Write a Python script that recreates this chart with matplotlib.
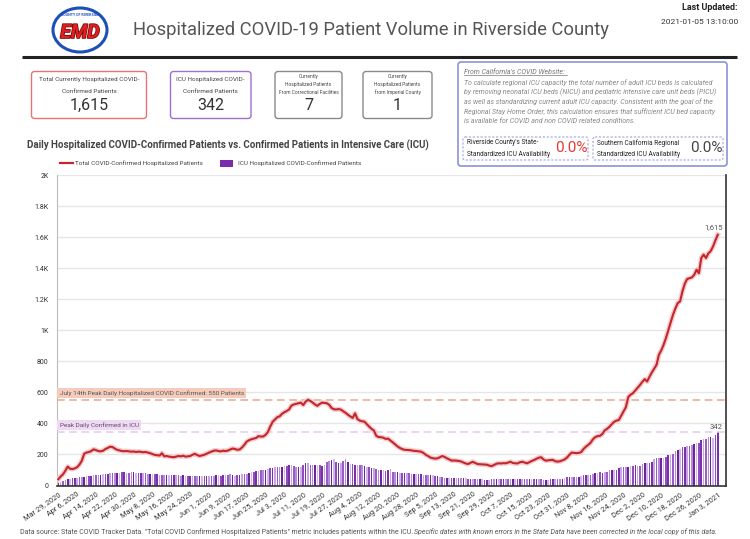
import matplotlib
matplotlib.use("Agg")
import matplotlib.pyplot as plt
import matplotlib.patheffects as pe
from matplotlib.patches import FancyBboxPatch, Rectangle, Ellipse
import pandas as pd

plt.rcParams['font.family'] = ['Roboto', 'DejaVu Sans']

# ---- data ----
start_date = "2020-03-29"

hospitalized = [
    40, 58, 72, 95, 122, 108, 106, 110, 118, 135,
    160, 205, 212, 216, 222, 233, 228, 222, 220, 224,
    235, 242, 250, 248, 238, 230, 226, 222, 221, 222,
    220, 218, 219, 216, 218, 217, 214, 216, 212, 208,
    202, 197, 195, 193, 208, 188, 190, 186, 184, 182,
    186, 190, 188, 192, 186, 188, 190, 198, 204, 196,
    190, 194, 198, 205, 212, 218, 224, 226, 222, 220,
    224, 222, 225, 232, 238, 235, 230, 232, 245, 262,
    283, 292, 298, 302, 306, 318, 315, 316, 326, 345,
    380, 410, 425, 440, 446, 462, 472, 480, 490, 515,
    522, 526, 530, 534, 518, 540, 552, 545, 534, 522,
    513, 525, 534, 532, 530, 520, 500, 491, 490, 492,
    489, 478, 468, 455, 445, 435, 465, 428, 418, 414,
    411, 395, 379, 365, 354, 320, 312, 311, 308, 300,
    302, 290, 278, 265, 252, 242, 235, 230, 229, 228,
    226, 223, 222, 220, 218, 210, 198, 190, 180, 176,
    173, 175, 182, 190, 184, 175, 168, 160, 161, 160,
    158, 155, 148, 142, 138, 146, 153, 145, 138, 137,
    136, 135, 134, 128, 125, 132, 140, 143, 142, 144,
    143, 148, 153, 145, 143, 142, 150, 153, 148, 143,
    150, 158, 164, 172, 179, 182, 168, 160, 162, 164,
    165, 156, 154, 156, 162, 168, 180, 198, 212, 210,
    208, 210, 215, 235, 250, 262, 275, 298, 312, 318,
    320, 332, 355, 365, 378, 395, 410, 418, 422, 450,
    478, 505, 570, 585, 595, 612, 630, 648, 668, 685,
    670, 700, 728, 752, 777, 842, 870, 906, 950, 1000,
    1050, 1100, 1140, 1175, 1186, 1250, 1300, 1330, 1335, 1340,
    1357, 1390, 1367, 1465, 1487, 1465, 1495, 1510, 1540, 1579, 1615,
]

icu = [
    18, 22, 28, 35, 40, 44, 46, 48, 50, 52,
    55, 57, 58, 60, 63, 65, 66, 68, 70, 72,
    74, 76, 78, 80, 82, 83, 82, 84, 85, 83,
    82, 84, 86, 83, 80, 82, 78, 80, 76, 75,
    74, 72, 72, 70, 68, 69, 67, 66, 68, 66,
    65, 66, 64, 65, 63, 62, 64, 62, 60, 63,
    62, 60, 61, 64, 62, 63, 61, 65, 66, 64,
    70, 66, 68, 72, 70, 62, 65, 70, 74, 72,
    75, 80, 84, 88, 92, 96, 98, 100, 102, 104,
    110, 115, 118, 120, 122, 121, 124, 126, 130, 132,
    125, 118, 116, 118, 130, 145, 147, 135, 132, 130,
    132, 130, 128, 134, 150, 160, 164, 169, 150, 145,
    143, 158, 169, 150, 140, 138, 135, 133, 132, 130,
    125, 120, 117, 112, 110, 104, 102, 100, 98, 95,
    97, 104, 88, 85, 84, 83, 82, 83, 82, 80,
    75, 73, 72, 72, 71, 70, 68, 68, 67, 66,
    62, 58, 55, 52, 50, 51, 50, 49, 50, 50,
    48, 48, 47, 46, 45, 43, 42, 42, 41, 40,
    40, 38, 36, 38, 39, 40, 41, 40, 42, 41,
    40, 41, 42, 40, 41, 42, 40, 39, 41, 40,
    42, 41, 40, 39, 40, 41, 38, 37, 38, 40,
    40, 39, 41, 42, 45, 48, 52, 53, 54, 53,
    55, 56, 62, 66, 68, 70, 68, 72, 80, 82,
    84, 83, 85, 90, 98, 100, 102, 100, 112, 118,
    116, 118, 120, 125, 128, 130, 127, 126, 140, 146,
    148, 145, 150, 170, 175, 176, 178, 174, 182, 195,
    198, 200, 225, 230, 232, 245, 250, 252, 255, 262,
    270, 272, 275, 290, 298, 300, 310, 312, 308, 325, 342,
]

yticks = [0, 200, 400, 600, 800, 1000, 1200, 1400, 1600, 1800, 2000]
ytick_labels = ["0", "200", "400", "600", "800", "1K", "1.2K", "1.4K", "1.6K", "1.8K", "2K"]

peak_hosp = 550
peak_icu = 342

kpi_labels = [
    ["Total Currently Hospitalized COVID-", "Confirmed Patients"],
    ["ICU Hospitalized COVID-", "Confirmed Patients"],
    ["Currently", "Hospitalized Patients", "From Correctional Facilities"],
    ["Currently", "Hospitalized Patients", "from Imperial County"],
]
kpi_values = ["1,615", "342", "7", "1"]

info_lines = [
    "To calculate regional ICU capacity the total number of adult ICU beds is calculated",
    "by removing neonatal ICU beds (NICU) and pediatric intensive care unit beds (PICU)",
    "as well as standardizing current adult ICU capacity. Consistent with the goal of the",
    "Regional Stay Home Order, this calculation ensures that sufficient ICU bed capacity",
    "is available for COVID and non COVID related conditions.",
]
icu_avail = ["0.0%", "0.0%"]

dates = pd.date_range(start_date, periods=len(hospitalized), freq="D")

fig = plt.figure(figsize=(7.5, 5.39), dpi=100)
fig.patch.set_facecolor("white")

# ---- background layer in pixel coordinates ----
bg = fig.add_axes([0, 0, 1, 1])
bg.set_xlim(0, 750)
bg.set_ylim(539, 0)
bg.axis("off")

# logo
bg.add_patch(Ellipse((80, 30), 54, 44, fill=False, edgecolor="#1d4fb8", lw=2.2))
bg.text(80, 33, "EMD", color="#e02020", fontsize=14, fontweight="bold", style="italic",
        ha="center", va="center",
        path_effects=[pe.Stroke(linewidth=1.2, foreground="#7a0d0d"), pe.Normal()])
bg.text(80, 15, "COUNTY OF RIVERSIDE", color="#1d4fb8", fontsize=2.6, fontweight="bold",
        ha="center", va="center")

bg.text(133, 30, "Hospitalized COVID-19 Patient Volume in Riverside County",
        fontsize=13.2, color="#555555", ha="left", va="center")
bg.text(738, 8, "Last Updated:", fontsize=6.5, fontweight="bold", color="#222222",
        ha="right", va="center")
bg.text(738, 22, "2021-01-05 13:10:00", fontsize=6, color="#333333", ha="right", va="center")
bg.plot([22, 737], [56.5, 56.5], color="#222222", lw=2.2, solid_capstyle="butt")

# KPI cards
cards = [(31.5, 146.5, "#e57373"), (170.5, 251, "#a070d0"),
         (275, 342, "#8a8a8a"), (363, 432, "#8a8a8a")]
for (x0, x1, ec), lines, val in zip(cards, kpi_labels, kpi_values):
    bg.add_patch(FancyBboxPatch((x0, 71.5), x1 - x0, 47, boxstyle="round,pad=0,rounding_size=3",
                                facecolor="white", edgecolor=ec, lw=1))
    cx = (x0 + x1) / 2
    if len(lines) == 2:
        for ln, yy in zip(lines, [80, 91.5]):
            bg.text(cx, yy, ln, fontsize=4.6, color="#444444", ha="center", va="center")
    else:
        for ln, yy in zip(lines, [76.5, 84.5, 92.5]):
            bg.text(cx, yy, ln, fontsize=3.5, color="#444444", ha="center", va="center")
    bg.text(cx, 105.5, val, fontsize=11.5, color="#333333", ha="center", va="center")

# info box
bg.add_patch(FancyBboxPatch((458, 62), 269, 104, boxstyle="round,pad=0,rounding_size=3",
                            facecolor="white", edgecolor="#8c93d6", lw=1.2))
bg.text(464, 71.5, "From California's COVID Website:", fontsize=5, style="italic",
        color="#777777", ha="left", va="center")
bg.plot([464, 567], [75, 75], color="#777777", lw=0.5)
for i, ln in enumerate(info_lines):
    bg.text(464, 82.5 + i * 9.7, ln, fontsize=5.05, style="italic", color="#888888",
            ha="left", va="center")
sub_boxes = [(463, 588, ["Riverside County's State-", "Standardized ICU Availability"], "#e53935", 571),
             (593, 723, ["Southern California Regional", "Standardized ICU Availability"], "#444444", 706)]
for (x0, x1, lines, col, vx), val in zip(sub_boxes, icu_avail):
    bg.add_patch(FancyBboxPatch((x0, 137), x1 - x0, 23, boxstyle="round,pad=0,rounding_size=2",
                                facecolor="white", edgecolor="#a0a6d8", lw=0.8, ls=(0, (2, 1.5))))
    bg.text(x0 + 4, 143, lines[0], fontsize=4.7, color="#222222", ha="left", va="center")
    bg.text(x0 + 4, 155, lines[1], fontsize=4.7, color="#222222", ha="left", va="center")
    bg.text(vx, 148, val, fontsize=11, color=col, ha="center", va="center")

# chart title and legend
bg.text(27, 145, "Daily Hospitalized COVID-Confirmed Patients vs. Confirmed Patients in Intensive Care (ICU)",
        fontsize=7, fontweight="bold", color="#444444", ha="left", va="center")
bg.plot([60, 72.5], [163.3, 163.3], color="#c4262e", lw=1.6)
bg.text(75, 163.3, "Total COVID-Confirmed Hospitalized Patients", fontsize=4.6,
        color="#444444", ha="left", va="center")
bg.add_patch(Rectangle((220, 160), 13, 6.5, facecolor="#7a2da8", edgecolor="none"))
bg.text(238, 163.3, "ICU Hospitalized COVID-Confirmed Patients", fontsize=4.6,
        color="#444444", ha="left", va="center")

# footer
bg.text(20, 532, 'Data source: State COVID Tracker Data. "Total COVID Confirmed Hospitalized Patients" '
        'metric includes patients within the ICU.', fontsize=5.0, color="#555555",
        ha="left", va="center")
bg.text(717, 532, "Specific dates with known errors in the State Data have been corrected in the local copy of this data.",
        fontsize=5.0, style="italic", color="#555555", ha="right", va="center")

# ---- chart ----
ax = fig.add_axes([57 / 750, 1 - 485.5 / 539, (726 - 57) / 750, (485.5 - 175) / 539])
shades = ["#7b2fa8", "#c7a4e3", "#9a5cc6", "#b68ad8", "#6c2499", "#d3b6ea", "#8f4dbd"]
bar_colors = [shades[i % len(shades)] for i in range(len(icu))]
ax.bar(dates, icu, width=0.68, color=bar_colors, linewidth=0, zorder=2)
ax.plot(dates, hospitalized, color="#c4262e", lw=1.5, zorder=4,
        path_effects=[pe.Stroke(linewidth=3.6, foreground="#f4cccc"), pe.Normal()])

ax.axhline(peak_hosp, color="#e9a58f", lw=1.1, ls=(0, (5, 3)), zorder=3)
ax.axhline(peak_icu, color="#e8c6f2", lw=1.1, ls=(0, (5, 3)), zorder=3)
yt = ax.get_yaxis_transform()
ax.text(0.004, 595, "July 14th Peak Daily Hospitalized COVID Confirmed: 550 Patients",
        transform=yt, fontsize=4.6, color="#555555", ha="left", va="center", zorder=5,
        bbox=dict(facecolor="#f5cbbb", edgecolor="none", pad=1.6))
ax.text(0.004, 390, "Peak Daily Confirmed in ICU",
        transform=yt, fontsize=4.6, color="#555555", ha="left", va="center", zorder=5,
        bbox=dict(facecolor="#efd9f6", edgecolor="none", pad=1.6))

ax.annotate(f"{hospitalized[-1]:,}", (dates[-1], hospitalized[-1]), xytext=(-3, 3),
            textcoords="offset points", ha="center", va="bottom", fontsize=5.5, color="#555555")
ax.annotate(f"{icu[-1]}", (dates[-1], icu[-1]), xytext=(-1, 2),
            textcoords="offset points", ha="center", va="bottom", fontsize=5.5, color="#555555")

ax.set_ylim(0, 2000)
ax.set_yticks(yticks)
ax.set_yticklabels(ytick_labels)
ax.set_xlim(dates[0] - pd.Timedelta(days=0.55), dates[0] + pd.Timedelta(days=283.5))
tick_dates = dates[::8]
ax.set_xticks(tick_dates)
ax.set_xticklabels([f"{d:%b} {d.day}, {d.year}" for d in tick_dates],
                   rotation=35, ha="right", rotation_mode="anchor")
ax.tick_params(axis="both", length=0, labelcolor="#333333")
ax.tick_params(axis="y", pad=6, labelsize=5)
ax.tick_params(axis="x", pad=4, labelsize=5.3)
ax.grid(axis="y", color="#e6e6e6", lw=1, zorder=0)
ax.set_axisbelow(True)
ax.spines["top"].set_visible(False)
ax.spines["left"].set_color("#bbbbbb")
ax.spines["right"].set_color("#333333")
ax.spines["bottom"].set_color("#333333")
ax.spines["right"].set_linewidth(1.2)
ax.spines["bottom"].set_linewidth(1.2)

fig.savefig("out.png", dpi=100)
